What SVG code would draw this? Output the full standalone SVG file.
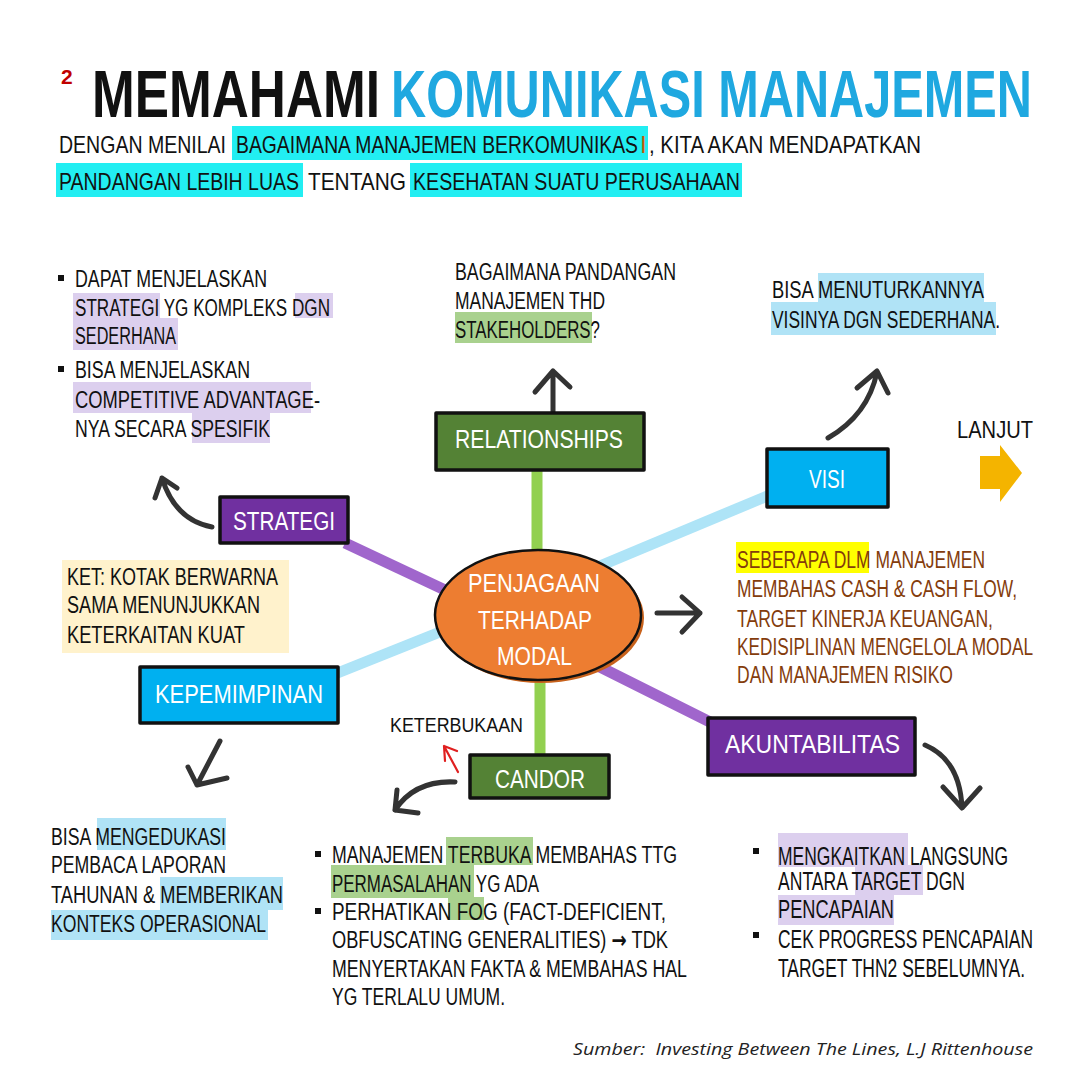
<svg xmlns="http://www.w3.org/2000/svg" width="1080" height="1080" viewBox="0 0 1080 1080">
<defs>
<style>
.t{font-family:"Liberation Sans","DejaVu Sans",sans-serif;font-size:23px;fill:#111}
.s{font-size:24px}
.big{font-size:25px}
.br{fill:#843c0c}
.bx{stroke:#111;stroke-width:3.5;stroke-linejoin:round}
.bt{font-family:"Liberation Sans","DejaVu Sans",sans-serif;font-size:25px;fill:#fff}
.mt{font-size:26px}
.arr{fill:none;stroke:#333;stroke-width:5;stroke-linecap:round;stroke-linejoin:round}
.ln{stroke-width:11;stroke-linecap:butt}
.hp{fill:#dccfee}
.hg{fill:#a9d18e}
.hb{fill:#b0e3f6}
.hc{fill:#22eef2}
.bul{fill:#111}
</style>
</defs>
<rect width="1080" height="1080" fill="#fff"/>

<g id="title">
<text x="61" y="84" font-family="Liberation Sans,sans-serif" font-size="21" font-weight="bold" fill="#c00000">2</text>
<text x="92" y="117" font-family="Liberation Sans,sans-serif" font-size="66" font-weight="bold" fill="#111" textLength="288" lengthAdjust="spacingAndGlyphs">MEMAHAMI</text>
<text x="391" y="117" font-family="Liberation Sans,sans-serif" font-size="66" font-weight="bold" fill="#1fa8e0" textLength="641" lengthAdjust="spacingAndGlyphs">KOMUNIKASI MANAJEMEN</text>
</g>

<g id="subtitle">
<rect class="hc" x="232" y="126" width="416" height="34"/>
<rect class="hc" x="56" y="163" width="247" height="34"/>
<rect class="hc" x="410" y="163" width="332" height="34"/>
<text class="t s" x="59" y="153" textLength="167" lengthAdjust="spacingAndGlyphs">DENGAN MENILAI</text>
<text class="t s" x="236" y="153" textLength="402" lengthAdjust="spacingAndGlyphs">BAGAIMANA MANAJEMEN BERKOMUNIKAS</text>
<text class="t s" x="640" y="153" style="fill:#c55a11">I</text>
<text class="t s" x="649" y="153" textLength="272" lengthAdjust="spacingAndGlyphs">, KITA AKAN MENDAPATKAN</text>
<text class="t s" x="59" y="190" textLength="240" lengthAdjust="spacingAndGlyphs">PANDANGAN LEBIH LUAS</text>
<text class="t s" x="308" y="190" textLength="98" lengthAdjust="spacingAndGlyphs">TENTANG</text>
<text class="t s" x="413" y="190" textLength="327" lengthAdjust="spacingAndGlyphs">KESEHATAN SUATU PERUSAHAAN</text>
</g>

<g id="connectors">
<line class="ln" x1="345" y1="543" x2="462" y2="598" stroke="#a066cc"/>
<line class="ln" x1="335" y1="674" x2="450" y2="628" stroke="#aee4f7"/>
<line class="ln" x1="595" y1="568" x2="772" y2="494" stroke="#aee4f7"/>
<line class="ln" x1="590" y1="662" x2="714" y2="724" stroke="#a066cc"/>
<line class="ln" x1="537" y1="468" x2="537" y2="556" stroke="#92d050"/>
<line class="ln" x1="540" y1="672" x2="540" y2="759" stroke="#92d050"/>
<path class="arr" d="M212,527 Q175,520 162,478 M155,498 L162,478 L177,488"/>
<path class="arr" d="M553,413 L553,371 M535,392 L553,371 L570,387"/>
<path class="arr" d="M828,438 Q868,415 877,372 M857,388 L877,371 L888,393"/>
<path class="arr" d="M657,613 L700,613 M682,597 L700,613 L682,632"/>
<path class="arr" d="M220,741 L197,785 M188,767 L197,785 L227,778"/>
<path class="arr" d="M455,782 Q415,780 395,810 M397,790 L395,810 L418,813"/>
<path class="arr" d="M925,745 Q960,760 962,808 M943,787 L962,808 L980,788"/>
<path d="M458,772 L444,746 M445,761 L444,746 L457,751" fill="none" stroke="#e02020" stroke-width="2.2" stroke-linecap="round" stroke-linejoin="round"/>
<polygon points="980,456 1000,456 1000,445 1022,473 1000,502 1000,489 980,489" fill="#f4b400"/>
</g>

<g id="modal">
<ellipse cx="541" cy="618" rx="103" ry="65" fill="#c8621c"/>
<ellipse cx="538" cy="615" rx="103" ry="65" fill="#ed7d31" stroke="#111" stroke-width="2.5"/>
<text class="bt mt" x="468" y="592" textLength="132" lengthAdjust="spacingAndGlyphs">PENJAGAAN</text>
<text class="bt mt" x="478" y="629" textLength="114" lengthAdjust="spacingAndGlyphs">TERHADAP</text>
<text class="bt mt" x="497" y="665" textLength="75" lengthAdjust="spacingAndGlyphs">MODAL</text>
</g>

<g id="relationships">
<rect class="bx" x="436" y="413" width="208" height="57" fill="#548235"/>
<text class="bt" x="455" y="448" textLength="168" lengthAdjust="spacingAndGlyphs">RELATIONSHIPS</text>
</g>
<g id="strategi">
<rect class="bx" x="220" y="497" width="128" height="46" fill="#7030a0"/>
<text class="bt" x="233" y="530" textLength="102" lengthAdjust="spacingAndGlyphs">STRATEGI</text>
</g>
<g id="visi">
<rect class="bx" x="767" y="449" width="121" height="58" fill="#00b0f0"/>
<text class="bt" x="827" y="488" text-anchor="middle" textLength="36" lengthAdjust="spacingAndGlyphs">VISI</text>
</g>
<g id="kepemimpinan">
<rect class="bx" x="140" y="667" width="198" height="56" fill="#00b0f0"/>
<text class="bt" x="155" y="703" textLength="168" lengthAdjust="spacingAndGlyphs">KEPEMIMPINAN</text>
</g>
<g id="candor">
<rect class="bx" x="470" y="755" width="139" height="43" fill="#548235"/>
<text class="bt" x="495" y="788" textLength="90" lengthAdjust="spacingAndGlyphs">CANDOR</text>
</g>
<g id="akuntabilitas">
<rect class="bx" x="708" y="718" width="207" height="57" fill="#7030a0"/>
<text class="bt" x="725" y="753" textLength="175" lengthAdjust="spacingAndGlyphs">AKUNTABILITAS</text>
</g>

<g id="strategi-note">
<rect class="hp" x="73" y="293" width="87" height="25"/>
<rect class="hp" x="295" y="293" width="38" height="25"/>
<rect class="hp" x="73" y="318" width="105" height="32"/>
<rect class="hp" x="73" y="382" width="238" height="31"/>
<rect class="hp" x="192" y="413" width="78" height="30"/>
<rect class="bul" x="58" y="275" width="6" height="6"/>
<rect class="bul" x="58" y="366" width="6" height="6"/>
<text class="t" x="75" y="287" textLength="192" lengthAdjust="spacingAndGlyphs">DAPAT MENJELASKAN</text>
<text class="t" x="75" y="316" textLength="255" lengthAdjust="spacingAndGlyphs">STRATEGI YG KOMPLEKS DGN</text>
<text class="t" x="75" y="344" textLength="101" lengthAdjust="spacingAndGlyphs">SEDERHANA</text>
<text class="t" x="75" y="378" textLength="175" lengthAdjust="spacingAndGlyphs">BISA MENJELASKAN</text>
<text class="t" x="75" y="408" textLength="245" lengthAdjust="spacingAndGlyphs">COMPETITIVE ADVANTAGE-</text>
<text class="t" x="75" y="437" textLength="195" lengthAdjust="spacingAndGlyphs">NYA SECARA SPESIFIK</text>
</g>

<g id="relationships-note">
<rect class="hg" x="455" y="312" width="137" height="31"/>
<text class="t" x="455" y="280" textLength="221" lengthAdjust="spacingAndGlyphs">BAGAIMANA PANDANGAN</text>
<text class="t" x="455" y="309" textLength="150" lengthAdjust="spacingAndGlyphs">MANAJEMEN THD</text>
<text class="t" x="455" y="338" textLength="145" lengthAdjust="spacingAndGlyphs">STAKEHOLDERS?</text>
</g>

<g id="visi-note">
<rect class="hb" x="818" y="273" width="166" height="29"/>
<rect class="hb" x="771" y="302" width="225" height="33"/>
<text class="t" x="772" y="298" textLength="212" lengthAdjust="spacingAndGlyphs">BISA MENUTURKANNYA</text>
<text class="t" x="772" y="328" textLength="228" lengthAdjust="spacingAndGlyphs">VISINYA DGN SEDERHANA.</text>
</g>

<g id="lanjut">
<text class="t" x="957" y="438" textLength="76" lengthAdjust="spacingAndGlyphs">LANJUT</text>
</g>

<g id="ket">
<rect x="62" y="560" width="227" height="93" fill="#fff2cc"/>
<text class="t" x="67" y="585" textLength="211" lengthAdjust="spacingAndGlyphs">KET: KOTAK BERWARNA</text>
<text class="t" x="67" y="613" textLength="193" lengthAdjust="spacingAndGlyphs">SAMA MENUNJUKKAN</text>
<text class="t" x="67" y="643" textLength="178" lengthAdjust="spacingAndGlyphs">KETERKAITAN KUAT</text>
</g>

<g id="modal-note">
<rect x="736" y="542" width="133" height="31" fill="#ffff00"/>
<text class="t br" x="737" y="568" textLength="248" lengthAdjust="spacingAndGlyphs">SEBERAPA DLM MANAJEMEN</text>
<text class="t br" x="737" y="597" textLength="280" lengthAdjust="spacingAndGlyphs">MEMBAHAS CASH &amp; CASH FLOW,</text>
<text class="t br" x="737" y="627" textLength="256" lengthAdjust="spacingAndGlyphs">TARGET KINERJA KEUANGAN,</text>
<text class="t br" x="737" y="655" textLength="296" lengthAdjust="spacingAndGlyphs">KEDISIPLINAN MENGELOLA MODAL</text>
<text class="t br" x="737" y="683" textLength="216" lengthAdjust="spacingAndGlyphs">DAN MANAJEMEN RISIKO</text>
</g>

<g id="keterbukaan">
<text class="t" x="390" y="732" style="font-size:21px" textLength="133" lengthAdjust="spacingAndGlyphs">KETERBUKAAN</text>
</g>

<g id="kepemimpinan-note">
<rect class="hb" x="97" y="818" width="129" height="32"/>
<rect class="hb" x="160" y="877" width="123" height="33"/>
<rect class="hb" x="51" y="910" width="217" height="30"/>
<text class="t" x="51" y="845" textLength="175" lengthAdjust="spacingAndGlyphs">BISA MENGEDUKASI</text>
<text class="t" x="51" y="873" textLength="175" lengthAdjust="spacingAndGlyphs">PEMBACA LAPORAN</text>
<text class="t" x="51" y="903" textLength="232" lengthAdjust="spacingAndGlyphs">TAHUNAN &amp; MEMBERIKAN</text>
<text class="t" x="51" y="932" textLength="215" lengthAdjust="spacingAndGlyphs">KONTEKS OPERASIONAL</text>
</g>

<g id="candor-note">
<rect class="hg" x="446" y="837" width="87" height="28"/>
<rect class="hg" x="331" y="865" width="143" height="33"/>
<rect class="hg" x="448" y="897" width="36" height="23"/>
<rect class="bul" x="315" y="851" width="6" height="6"/>
<rect class="bul" x="315" y="908" width="6" height="6"/>
<text class="t" x="332" y="863" textLength="345" lengthAdjust="spacingAndGlyphs">MANAJEMEN TERBUKA MEMBAHAS TTG</text>
<text class="t" x="332" y="892" textLength="207" lengthAdjust="spacingAndGlyphs">PERMASALAHAN YG ADA</text>
<text class="t" x="332" y="920" textLength="334" lengthAdjust="spacingAndGlyphs">PERHATIKAN FOG (FACT-DEFICIENT,</text>
<text class="t" x="332" y="948" textLength="336" lengthAdjust="spacingAndGlyphs">OBFUSCATING GENERALITIES) <tspan font-family="DejaVu Sans" font-weight="bold">→</tspan> TDK</text>
<text class="t" x="332" y="977" textLength="355" lengthAdjust="spacingAndGlyphs">MENYERTAKAN FAKTA &amp; MEMBAHAS HAL</text>
<text class="t" x="332" y="1005" textLength="173" lengthAdjust="spacingAndGlyphs">YG TERLALU UMUM.</text>
</g>

<g id="akuntabilitas-note">
<rect class="hp" x="778" y="833" width="130" height="34"/>
<rect class="hp" x="855" y="865" width="68" height="30"/>
<rect class="hp" x="778" y="895" width="116" height="30"/>
<rect class="bul" x="753" y="848" width="6" height="6"/>
<rect class="bul" x="753" y="932" width="6" height="6"/>
<text class="t big" x="778" y="865" textLength="230" lengthAdjust="spacingAndGlyphs">MENGKAITKAN LANGSUNG</text>
<text class="t big" x="778" y="890" textLength="187" lengthAdjust="spacingAndGlyphs">ANTARA TARGET DGN</text>
<text class="t big" x="778" y="918" textLength="116" lengthAdjust="spacingAndGlyphs">PENCAPAIAN</text>
<text class="t big" x="778" y="948" textLength="255" lengthAdjust="spacingAndGlyphs">CEK PROGRESS PENCAPAIAN</text>
<text class="t big" x="778" y="977" textLength="247" lengthAdjust="spacingAndGlyphs">TARGET THN2 SEBELUMNYA.</text>
</g>

<g id="source">
<text x="573" y="1055" font-family="Open Sans,Liberation Sans,sans-serif" font-size="17" font-style="italic" fill="#222" style="white-space:pre" textLength="460" lengthAdjust="spacingAndGlyphs">Sumber:  Investing Between The Lines, L.J Rittenhouse</text>
</g>
</svg>
